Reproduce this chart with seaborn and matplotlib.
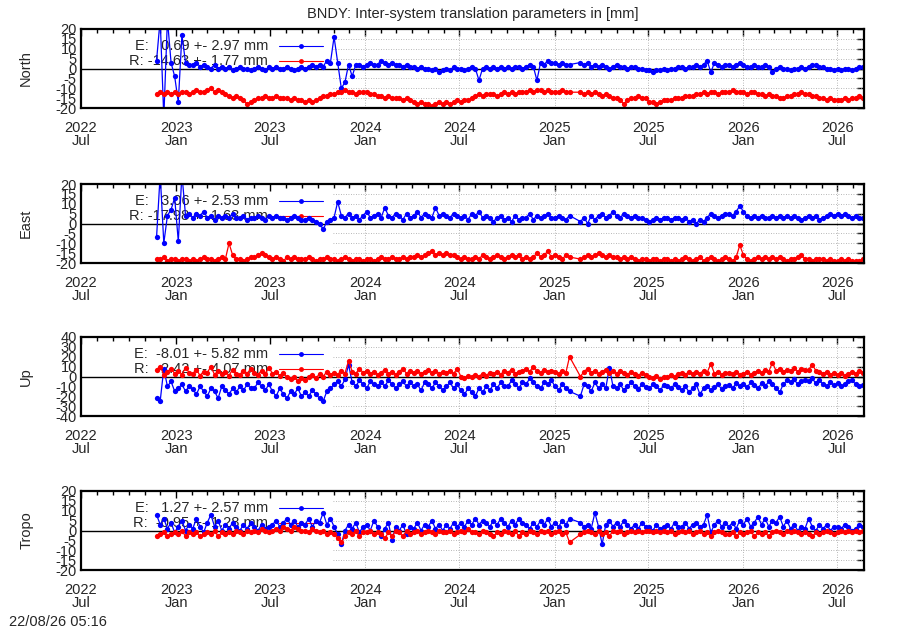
import numpy as np
import pandas as pd
import matplotlib
matplotlib.use("Agg")
import matplotlib.pyplot as plt
import matplotlib.dates as mdates
from matplotlib.lines import Line2D
import seaborn as sns

# weekly epochs, Nov 2022 - Aug 2026 (no data 2025-02-01 .. 2025-02-18)
dates = pd.date_range("2022-11-24", periods=196, freq="7D")
dates = dates[~((dates > "2025-02-01") & (dates < "2025-02-19"))]

# one row per month
north_E = [
    4,
    25, -25, 25, 3, -4,
    -17, 17, 3, 2,
    2, 3, 1, 2,
    1, 0, 2, 0, 1,
    0, 1, -1, 0,
    1, 0, 0, -1,
    0, 1, 0, -1, 1,
    0, 1, 0, 0,
    1, 0, -1, 0, 1,
    0, 1, 2, 1,
    2, 1, 4, 3,
    16, 3, -10, -7, 2,
    -4, 2, 2, 1,
    2, 3, 2, 2,
    4, 3, 2, 3, 2,
    2, 1, 2, 1,
    1, 0, 1, 0,
    0, -1, 0, -2, -1,
    0, -1, 1, 0,
    0, -1, 0, 1,
    0, -6, 0, 1, 0,
    1, 0, 1, 0,
    1, 0, 1, 1, 0,
    1, 2, 1, -6,
    3, 2, 4, 3,
    3, 2, 3, 2, 2,
    3, 2,
    3, 1, 2, 1,
    2, 1, 0, 1,
    2, 1, 1, 0, 1,
    1, 0, 0, -1,
    -1, -2, -1, -1, 0,
    -1, 0, 0, 1,
    1, 0, 1, 1,
    2, 1, 2, 4, -2,
    3, 2, 1, 2,
    2, 1, 2, 3,
    2, 1, 1, 2, 1,
    1, 2, 1, -2,
    0, 1, 0, 0,
    -1, 0, 0, 1, 0,
    1, 2, 2, 1,
    1, 0, 0, -1,
    0, -1, 0, 0, -1,
    0, 1, 1,
]
north_R = [
    -13,
    -12, -13, -12, -13, -12,
    -13, -12, -12, -13,
    -12, -11, -12, -12,
    -11, -10, -12, -11, -12,
    -13, -14, -15, -14,
    -15, -16, -18, -17,
    -16, -15, -15, -14, -15,
    -15, -14, -15, -15,
    -15, -16, -15, -16, -16,
    -17, -16, -17, -16,
    -15, -14, -14, -13,
    -13, -12, -12, -11, -12,
    -12, -13, -12, -12,
    -12, -13, -13, -14,
    -14, -15, -14, -15, -15,
    -15, -16, -15, -16,
    -17, -18, -17, -18,
    -18, -19, -18, -17, -18,
    -17, -18, -17, -16,
    -17, -16, -16, -15,
    -14, -13, -14, -13, -13,
    -13, -14, -13, -12,
    -13, -12, -13, -12, -12,
    -12, -11, -12, -11,
    -11, -12, -11, -12,
    -12, -12, -11, -12, -12,
    -12, -13,
    -12, -13, -12, -13,
    -14, -13, -14, -15,
    -15, -16, -18, -16, -15,
    -15, -14, -15, -15,
    -17, -17, -18, -17, -16,
    -16, -16, -15, -15,
    -15, -14, -14, -14,
    -13, -13, -12, -13, -12,
    -12, -13, -12, -12,
    -12, -11, -12, -12,
    -12, -13, -12, -12, -13,
    -13, -14, -13, -14,
    -14, -15, -15, -14,
    -14, -13, -13, -12, -13,
    -13, -14, -14, -15,
    -15, -16, -15, -16,
    -16, -16, -15, -16, -15,
    -15, -14, -15,
]
east_E = [
    -7,
    25, -10, 4, 7, 13,
    -9, 25, 4, 5,
    3, 5, 4, 6,
    3, 4, 2, 4, 3,
    4, 3, 5, 3,
    3, 4, 2, 3,
    3, 4, 3, 2, 4,
    3, 4, 3, 3,
    2, 3, 4, 3, 2,
    2, 3, 2, 1,
    0, -3, 1, 2,
    3, 11, 4, 3, 5,
    3, 4, 2, 4,
    6, 3, 4, 5,
    3, 8, 4, 3, 5,
    4, 2, 5, 3,
    4, 6, 3, 5,
    4, 3, 8, 4, 5,
    4, 3, 5, 4,
    3, 4, 2, 5,
    4, 6, 3, 4, 3,
    1, 3, 4, 2,
    3, 1, 4, 2, 3,
    3, 5, 2, 4,
    3, 4, 5, 3,
    3, 4, 3, 2, 4,
    1, 3,
    0, 4, 2, 4,
    5, 3, 4, 6,
    4, 3, 5, 4, 3,
    4, 3, 3, 2,
    1, 2, 3, 2, 3,
    3, 2, 3, 3,
    2, 3, 1, 2,
    0, 2, 1, 3, 5,
    4, 3, 4, 5,
    5, 4, 6, 9,
    6, 4, 3, 4, 3,
    4, 3, 3, 4,
    3, 4, 3, 4,
    3, 4, 3, 2, 3,
    4, 3, 4, 2,
    3, 4, 5, 4,
    5, 4, 5, 4, 3,
    4, 3, 3,
]
east_R = [
    -18,
    -18, -17, -19, -18, -18,
    -19, -18, -18, -19,
    -18, -19, -18, -17,
    -18, -18, -19, -18, -17,
    -18, -10, -16, -18,
    -18, -19, -18, -17,
    -17, -16, -15, -16, -17,
    -18, -17, -18, -19,
    -17, -18, -17, -18, -18,
    -18, -17, -18, -19,
    -18, -18, -17, -18,
    -18, -19, -18, -17, -18,
    -19, -18, -18, -19,
    -18, -18, -19, -18,
    -17, -18, -18, -17, -18,
    -18, -17, -18, -17,
    -17, -16, -17, -16,
    -15, -14, -16, -15, -16,
    -15, -16, -16, -17,
    -18, -17, -18, -18,
    -17, -18, -16, -17, -18,
    -17, -16, -17, -18,
    -17, -16, -17, -16, -18,
    -17, -18, -17, -15,
    -17, -16, -14, -17,
    -16, -17, -18, -16, -17,
    -18, -17,
    -16, -17, -16, -15,
    -16, -17, -16, -17,
    -17, -18, -17, -18, -17,
    -18, -19, -18, -18,
    -19, -18, -18, -19, -18,
    -18, -19, -18, -19,
    -18, -17, -18, -19,
    -18, -17, -19, -18, -17,
    -18, -19, -18, -17,
    -18, -19, -17, -11,
    -16, -18, -19, -18, -17,
    -18, -17, -18, -17,
    -18, -17, -18, -19,
    -18, -18, -17, -16, -18,
    -18, -19, -18, -18,
    -18, -19, -18, -19,
    -19, -18, -19, -18, -19,
    -19, -19, -18,
]
up_E = [
    -22,
    -25, 8, -10, -5, -15,
    -12, -8, -15, -10,
    -13, -18, -10, -15,
    -20, -12, -15, -22, -10,
    -14, -18, -12, -16,
    -10, -14, -8, -12,
    -12, -6, -10, -14, -8,
    -15, -20, -12, -18,
    -22, -15, -18, -12, -20,
    -16, -20, -14, -18,
    -22, -25, -15, -12,
    -8, -5, -10, -3, 12,
    -6, -10, -4, -8,
    -12, -5, -8, -10,
    -6, -10, -4, -8, -12,
    -8, -5, -10, -6,
    -10, -8, -14, -6,
    -8, -12, -6, -10, -14,
    -10, -6, -12, -8,
    -14, -18, -12, -16,
    -20, -12, -16, -10, -14,
    -8, -12, -6, -10,
    -10, -4, -8, -12, -6,
    -8, -2, -6, -10,
    -12, -6, -8, -4,
    -10, -14, -8, -12, -15,
    -20, -8,
    -10, -15, -6, -12,
    -8, -12, 9, -10,
    -12, -8, -14, -10, -6,
    -10, -13, -8, -11,
    -12, -8, -10, -14, -9,
    -10, -12, -8, -11,
    -14, -10, -16, -12,
    -8, -18, -12, -10, -14,
    -11, -8, -13, -10,
    -9, -12, -7, -10,
    -8, -11, -6, -9, -12,
    -7, -10, -5, -8,
    -12, -16, -8, -4,
    -6, -3, -8, -5, -4,
    -5, -2, -7, -4,
    -8, -10, -6, -9,
    -7, -10, -8, -5, -4,
    -8, -10, -9,
]
up_R = [
    7,
    10, 2, 5, 8, 3,
    6, 2, 9, 4,
    3, 7, 1, 5,
    4, 10, 2, 6, 3,
    5, 1, 7, 3,
    2, 6, 3, 8,
    4, 2, 6, 3, 9,
    3, 5, 1, 4,
    -1, -3, 0, -5, -2,
    -4, -1, 2, -2,
    3, 0, 5, 2,
    4, 2, 6, 3, 16,
    5, 3, 8, 4,
    6, 3, 5, 2,
    4, 7, 3, 5, 2,
    5, 8, 3, 6,
    4, 6, 3, 5,
    7, 4, 6, 3, 5,
    4, 6, 3, 8,
    0, -2, 1, -1,
    2, 0, 3, 1, 4,
    3, 5, 2, 6,
    4, 7, 3, 5, 6,
    8, 5, 10, 6,
    4, 7, 5, 6,
    5, 3, 6, 4, 20,
    0, 5,
    8, 4, 6, 3,
    5, 7, 4, 6,
    3, 6, 4, 2, 5,
    3, 1, 4, 2,
    0, -2, 1, -3, 0,
    -1, 2, 0, 3,
    4, 2, 5, 3,
    5, 3, 6, 4, 13,
    3, 5, 2, 4,
    4, 3, 5, 2,
    3, 5, 2, 4, 6,
    4, 7, 5, 14,
    6, 8, 5, 7,
    6, 9, 5, 8, 7,
    7, 12, 6, 5,
    3, 5, 2, 4,
    2, 4, 1, 3, 5,
    3, 6, 4,
]
tropo_E = [
    8,
    3, 6, 1, 4, -1,
    2, 5, 0, 3,
    1, 6, 2, -1,
    4, 8, 2, 5, 0,
    3, 1, 4, 2,
    0, 3, 1, 4,
    2, 0, 3, 1, 2,
    3, 5, 2, 4,
    6, 3, 5, 2, 4,
    3, 6, 2, 5,
    4, 9, 3, 6,
    2, -2, -7, 0, 3,
    1, 4, -1, 2,
    3, 0, 5, 2,
    -3, 1, 4, -5, 2,
    0, 3, -2, 2,
    1, 4, 0, 3,
    2, 5, 1, 3, 0,
    3, 1, 4, 2,
    4, 2, 5, 3,
    6, 3, 5, 4, 2,
    5, 3, 6, 4,
    2, 5, 3, 6, 4,
    3, 1, 4, 2,
    5, 3, 6, 2,
    4, 2, 5, 3, 6,
    4, 2,
    3, 1, 9, 2,
    -7, 3, 5, 2,
    4, 2, 5, 3, 1,
    3, 1, 4, 2,
    2, 0, 3, 1, 2,
    3, 1, 4, 2,
    2, 4, 1, 3,
    4, 2, 3, 8, -1,
    3, 5, 2, 4,
    2, 4, 1, 5,
    3, 6, 2, 4, 7,
    3, 6, 2, 5,
    4, 7, 2, 5,
    1, 3, 0, 2, 1,
    6, 2, 0, 3,
    1, 3, 0, 2,
    2, 1, 3, 2, 0,
    1, 3, 2,
]
tropo_R = [
    -3,
    -2, -1, -3, -2, -1,
    -2, 0, -3, -1,
    -2, -1, -3, -2,
    -1, -2, 0, -3, -1,
    -2, -1, -2, 0,
    -1, -2, 0, -1,
    0, -1, 1, 0, -1,
    0, 1, 0, 2,
    1, 0, 2, 1, 0,
    0, -1, 1, 0,
    -1, 0, -2, -1,
    -2, -4, -6, -3, -1,
    -2, 0, -3, -1,
    -1, 0, -2, -1,
    -2, -4, -1, -3, 0,
    -1, -3, 0, -2,
    -1, 0, -2, -1,
    0, -1, -2, 0, -1,
    -1, 0, -2, -1,
    0, -1, 1, -1,
    -1, -2, 0, -1, -2,
    -3, -1, -2, 0,
    -1, -2, 0, -3, -1,
    -2, 0, -1, -2,
    0, -1, 0, -2,
    -1, 0, -2, -1, -6,
    -2, -1,
    0, -1, -2, 0,
    -2, -1, -3, 0,
    -1, 0, -2, -1, 0,
    -1, 0, -1, 0,
    0, -1, 0, -1, 0,
    -1, 0, -2, -1,
    0, -1, 0, -2,
    -1, 0, -2, -1, -3,
    -1, 0, -1, -2,
    -2, -1, -3, -1,
    -2, -1, 0, -3, -1,
    -2, -1, -3, -1,
    0, -1, -2, 0,
    -1, 0, -1, -2, -1,
    -2, -3, -1, -2,
    -1, 0, -1, -2,
    -1, 0, -1, 0, -1,
    0, -1, 0,
]

panel_names = ["North", "East", "Up", "Tropo"]
panel_E = [north_E, east_E, up_E, tropo_E]
panel_R = [north_R, east_R, up_R, tropo_R]
panel_lim = [20, 20, 40, 20]
panel_step = [5, 5, 10, 5]
label_E = ["E:   0.69 +- 2.97 mm", "E:   3.06 +- 2.53 mm",
           "E:  -8.01 +- 5.82 mm", "E:   1.27 +- 2.57 mm"]
label_R = ["R: -14.63 +- 1.77 mm", "R: -17.98 +- 1.63 mm",
           "R:   2.42 +- 4.07 mm", "R:  -0.95 +- 1.28 mm"]

sns.set_style("white")
plt.rcParams['font.family'] = ['Liberation Sans', 'DejaVu Sans']
plt.rcParams['axes.unicode_minus'] = False
plt.rcParams['font.size'] = 10.5

BLUE = "#0000ff"
RED = "#ff0000"
x0 = pd.Timestamp("2022-07-01")
x1 = pd.Timestamp("2026-08-22")
grid_from = pd.Timestamp("2023-10-31")
gfrac = (grid_from - x0) / (x1 - x0)

fig = plt.figure(figsize=(9, 6.3), dpi=100)
bottoms = [108, 263, 416, 570]

for k in range(4):
    b = bottoms[k]
    ax = fig.add_axes([81 / 900, 1 - b / 630, 783 / 900, 79 / 630])
    df = pd.DataFrame({"date": dates, "E": panel_E[k], "R": panel_R[k]})
    lim = panel_lim[k]

    sns.lineplot(data=df, x="date", y="E", ax=ax, color=BLUE, lw=0.9,
                 marker="o", markersize=3.8, markeredgewidth=0,
                 estimator=None, sort=False, zorder=3)
    sns.lineplot(data=df, x="date", y="R", ax=ax, color=RED, lw=0.9,
                 marker="o", markersize=3.8, markeredgewidth=0,
                 estimator=None, sort=False, zorder=4)

    ax.set_xlim(x0, x1)
    ax.set_ylim(-lim, lim)
    ax.set_yticks(np.arange(-lim, lim + 1, panel_step[k]))
    ax.xaxis.set_major_locator(mdates.MonthLocator(bymonth=[1, 7]))
    ax.xaxis.set_major_formatter(mdates.DateFormatter("%Y\n%b"))
    ax.xaxis.set_minor_locator(mdates.MonthLocator())
    ax.tick_params(which="both", direction="in", top=True, right=True,
                   color="black", width=1.0, labelsize=10.5)
    ax.tick_params(axis="x", which="major", length=5, pad=9)
    ax.tick_params(axis="y", which="major", length=5, pad=3)
    ax.tick_params(which="minor", length=3)
    for lab in ax.get_xticklabels():
        lab.set_linespacing(0.95)
    for s in ax.spines.values():
        s.set_linewidth(1.6)
        s.set_color("black")
        s.set_zorder(6)

    # dotted grid (hidden behind the key on the left)
    for yv in np.arange(-lim + panel_step[k], lim, panel_step[k]):
        if yv != 0:
            ax.axhline(yv, xmin=gfrac, xmax=1, color="#a0a0a0", lw=0.6,
                       ls=(0, (1, 2)), zorder=1)
    for tv in pd.date_range("2023-07-01", "2026-07-01", freq="6MS"):
        if tv > grid_from:
            ax.axvline(tv, color="#a0a0a0", lw=0.6, ls=(0, (1, 2)), zorder=1)
    ax.axhline(0, color="black", lw=1.0, zorder=2)

    # key
    for lbl, col, yk in [(label_E[k], BLUE, 0.79), (label_R[k], RED, 0.60)]:
        ax.text(0.239, yk, lbl, transform=ax.transAxes, ha="right",
                va="center", fontsize=10.5, zorder=2)
        ax.add_line(Line2D([0.253, 0.309], [yk, yk], transform=ax.transAxes,
                           color=col, lw=0.8, zorder=2))
        ax.add_line(Line2D([0.281], [yk], transform=ax.transAxes, color=col,
                           marker="o", markersize=3.5, markeredgewidth=0,
                           zorder=2))

    ax.set_xlabel("")
    ax.set_ylabel(panel_names[k], fontsize=10.5)
    ax.yaxis.set_label_coords(-0.061, 0.5)

fig.text(472.5 / 900, 1 - 14 / 630, "BNDY: Inter-system translation parameters in [mm]",
         ha="center", va="center", fontsize=10.5)
fig.text(9 / 900, 1 - 622 / 630, "22/08/26 05:16", ha="left", va="center",
         fontsize=10.5)

fig.savefig("out.png", dpi=100)
